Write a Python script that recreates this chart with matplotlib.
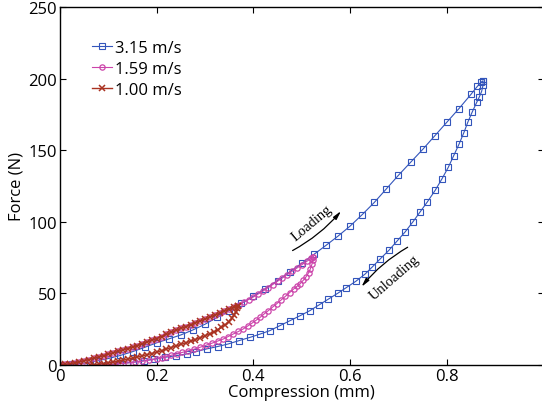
import matplotlib
matplotlib.use('Agg')
import matplotlib.pyplot as plt

plt.rcParams['font.family'] = ['Open Sans', 'DejaVu Sans']

# 3.15 m/s : montée puis descente
x_315_up = [0.000, 0.025, 0.050, 0.075, 0.100, 0.125, 0.150, 0.175, 0.200, 0.225,
            0.250, 0.275, 0.300, 0.325, 0.350, 0.375, 0.400, 0.425, 0.450, 0.475,
            0.500, 0.525, 0.550, 0.575, 0.600, 0.625, 0.650, 0.675, 0.700, 0.725,
            0.750, 0.775, 0.800, 0.825, 0.850, 0.863, 0.871, 0.875]
f_315_up = [0.0, 0.4, 1.3, 2.7, 4.5, 6.7, 9.3, 12.3, 15.5, 18.2,
            21.0, 24.5, 28.5, 33.2, 38.0, 43.0, 48.0, 53.4, 59.0, 65.0,
            71.0, 77.2, 83.5, 90.0, 97.0, 105.0, 113.5, 123.0, 132.5, 141.5,
            150.5, 160.0, 169.5, 179.0, 189.0, 194.5, 197.5, 198.5]
x_315_down = [0.875, 0.875, 0.872, 0.867, 0.862, 0.853, 0.844, 0.835, 0.825, 0.814,
              0.803, 0.790, 0.776, 0.760, 0.745, 0.730, 0.714, 0.697, 0.680, 0.662,
              0.646, 0.631, 0.612, 0.592, 0.574, 0.555, 0.536, 0.517, 0.497, 0.476,
              0.455, 0.434, 0.413, 0.393, 0.370, 0.348, 0.326, 0.303, 0.282, 0.262,
              0.240, 0.217, 0.195, 0.173, 0.152, 0.125, 0.097]
f_315_down = [198.5, 195.5, 191.0, 187.0, 183.5, 177.0, 170.0, 162.0, 154.0, 146.0,
              138.0, 130.0, 122.0, 114.0, 107.0, 100.0, 93.0, 86.5, 80.0, 74.0,
              68.5, 63.5, 58.5, 54.0, 50.0, 46.0, 42.0, 38.0, 34.5, 31.0,
              27.5, 24.0, 21.5, 19.3, 17.0, 14.7, 12.9, 11.2, 9.4, 7.7,
              6.5, 5.4, 4.2, 3.0, 2.0, 1.0, 0.0]

# 1.59 m/s
x_159_up = [0.00, 0.01, 0.02, 0.03, 0.04, 0.05, 0.06, 0.07, 0.08, 0.09,
            0.10, 0.11, 0.12, 0.13, 0.14, 0.15, 0.16, 0.17, 0.18, 0.19,
            0.20, 0.21, 0.22, 0.23, 0.24, 0.25, 0.26, 0.27, 0.28, 0.29,
            0.30, 0.31, 0.32, 0.33, 0.34, 0.35, 0.36, 0.37, 0.38, 0.39,
            0.40, 0.41, 0.42, 0.43, 0.44, 0.45, 0.46, 0.47, 0.48, 0.49,
            0.50, 0.51, 0.52, 0.524]
f_159_up = [0.0, 0.4, 0.9, 1.5, 2.2, 3.0, 3.8, 4.7, 5.6, 6.5,
            7.5, 8.5, 9.5, 10.5, 11.5, 12.5, 13.6, 14.8, 16.0, 17.2,
            18.5, 19.9, 21.3, 22.7, 24.1, 25.5, 26.8, 28.1, 29.4, 30.7,
            32.0, 33.4, 34.8, 36.2, 37.6, 39.0, 40.6, 42.2, 43.9, 45.7,
            47.5, 49.6, 51.7, 53.9, 56.2, 58.5, 60.8, 63.1, 65.4, 67.7,
            70.0, 72.3, 74.6, 75.5]
x_159_down = [0.524, 0.523, 0.521, 0.518, 0.514, 0.509, 0.503, 0.497, 0.490, 0.483,
              0.475, 0.466, 0.457, 0.448, 0.440, 0.431, 0.422, 0.414, 0.405, 0.397,
              0.388, 0.379, 0.369, 0.358, 0.348, 0.338, 0.326, 0.314, 0.302, 0.290,
              0.278, 0.265, 0.253, 0.241, 0.230, 0.220, 0.210, 0.200, 0.185, 0.170,
              0.155, 0.140, 0.125, 0.110, 0.096, 0.083]
f_159_down = [75.5, 73.0, 70.3, 67.3, 64.3, 61.6, 59.1, 56.9, 54.9, 53.0,
              50.6, 47.9, 45.3, 42.7, 40.5, 38.0, 35.6, 33.3, 31.1, 29.2,
              27.2, 25.2, 23.4, 21.6, 19.9, 18.2, 16.7, 15.2, 13.8, 12.4,
              11.1, 9.9, 8.8, 7.7, 6.8, 5.9, 5.0, 4.2, 3.4, 2.6,
              2.0, 1.4, 0.9, 0.5, 0.2, 0.0]

# 1.00 m/s
x_100_up = [0.00, 0.01, 0.02, 0.03, 0.04, 0.05, 0.06, 0.07, 0.08, 0.09,
            0.10, 0.11, 0.12, 0.13, 0.14, 0.15, 0.16, 0.17, 0.18, 0.19,
            0.20, 0.21, 0.22, 0.23, 0.24, 0.25, 0.26, 0.27, 0.28, 0.29,
            0.30, 0.31, 0.32, 0.33, 0.34, 0.35, 0.36, 0.369]
f_100_up = [0.0, 0.4, 0.9, 1.5, 2.2, 3.0, 3.8, 4.7, 5.6, 6.5,
            7.5, 8.5, 9.5, 10.5, 11.5, 12.5, 13.6, 14.8, 16.0, 17.2,
            18.5, 19.9, 21.3, 22.7, 24.1, 25.5, 26.8, 28.1, 29.4, 30.7,
            32.0, 33.4, 34.8, 36.2, 37.6, 39.0, 40.6, 41.5]
x_100_down = [0.369, 0.367, 0.364, 0.360, 0.355, 0.349, 0.342, 0.334, 0.326, 0.318,
              0.310, 0.300, 0.290, 0.280, 0.270, 0.260, 0.250, 0.240, 0.230, 0.220,
              0.210, 0.200, 0.190, 0.180, 0.170, 0.160, 0.150, 0.140, 0.130, 0.120,
              0.110, 0.100, 0.090, 0.080, 0.070, 0.062]
f_100_down = [41.5, 39.5, 37.3, 35.0, 32.6, 30.3, 28.1, 26.2, 24.5, 23.0,
              21.8, 20.4, 19.0, 17.8, 16.6, 15.5, 14.4, 13.3, 12.2, 11.1,
              10.0, 8.9, 8.0, 7.2, 6.4, 5.6, 4.8, 4.1, 3.4, 2.7,
              2.1, 1.5, 1.0, 0.5, 0.2, 0.0]

bleu = '#3355bb'
rose = '#cc44aa'
brun = '#aa3322'

fig = plt.figure(figsize=(5.42, 4.10), dpi=100)
ax = fig.add_axes([60/542, 44/410, 483.5/542, 358/410])

ax.plot(x_315_up + x_315_down, f_315_up + f_315_down, color=bleu, lw=0.8,
        marker='s', ms=3.8, mfc='none', mew=0.8, label='3.15 m/s')
ax.plot(x_159_up + x_159_down, f_159_up + f_159_down, color=rose, lw=0.8,
        marker='o', ms=3.8, mfc='none', mew=0.9, label='1.59 m/s')
ax.plot(x_100_up + x_100_down, f_100_up + f_100_down, color=brun, lw=1.0,
        marker='x', ms=4.2, mew=1.1, label='1.00 m/s')

# flèches Loading / Unloading
ax.annotate('', xy=(0.585, 109), xytext=(0.476, 79),
            arrowprops=dict(arrowstyle='-|>,head_length=0.5,head_width=0.12',
                            color='black', lw=0.9,
                            connectionstyle='arc3,rad=0.1'))
ax.text(0.521, 99.3, 'Loading', family='Liberation Serif', fontsize=10.5,
        rotation=40, ha='center', va='center')
ax.annotate('', xy=(0.620, 53.1), xytext=(0.724, 83.2),
            arrowprops=dict(arrowstyle='-|>,head_length=0.5,head_width=0.12',
                            color='black', lw=0.9,
                            connectionstyle='arc3,rad=0.1'))
ax.text(0.691, 61.5, 'Unloading', family='Liberation Serif', fontsize=10.5,
        rotation=41, ha='center', va='center')

ax.set_xlim(0, 1)
ax.set_ylim(0, 250)
ax.set_xticks([0, 0.2, 0.4, 0.6, 0.8, 1.0])
ax.set_xticklabels(['0', '0.2', '0.4', '0.6', '0.8', ''])
ax.set_yticks([0, 50, 100, 150, 200, 250])
ax.tick_params(direction='in', top=True, right=True, length=4, width=0.8,
               labelsize=12, pad=2)
for s in ax.spines.values():
    s.set_linewidth(1.0)
ax.set_xlabel('Compression (mm)', fontsize=12, labelpad=0)
ax.set_ylabel('Force (N)', fontsize=12, labelpad=3)

ax.legend(loc='upper left', bbox_to_anchor=(0.035, 0.95), frameon=False,
          fontsize=12, handlelength=1.2, handletextpad=0.2, labelspacing=0.3)

fig.savefig('out.png', dpi=100)
